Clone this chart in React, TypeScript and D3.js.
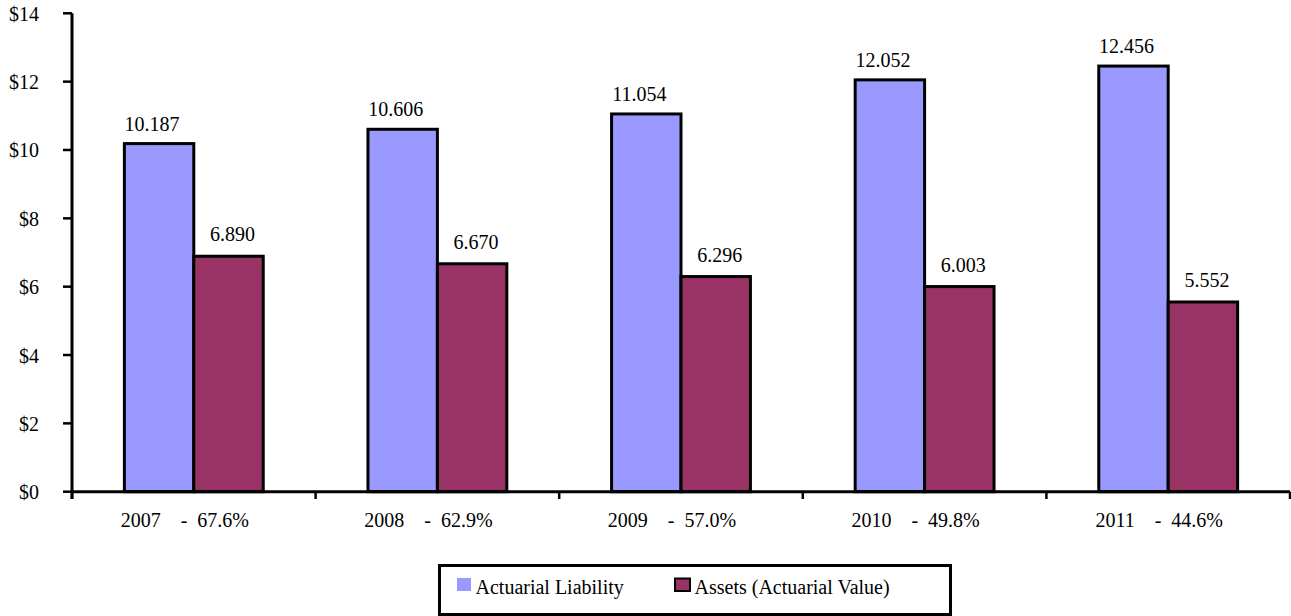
import React from "react";
import * as d3 from "d3";

// Funded status by year: liability vs. assets (billions)
const years = ["2007", "2008", "2009", "2010", "2011"];
const fundedRatios = ["67.6%", "62.9%", "57.0%", "49.8%", "44.6%"];
const liability = [10.187, 10.606, 11.054, 12.052, 12.456];
const assets = [6.89, 6.67, 6.296, 6.003, 5.552];
const seriesNames = ["Actuarial Liability", "Assets (Actuarial Value)"];
const yTicks = [0, 2, 4, 6, 8, 10, 12, 14];

const W = 1291;
const H = 616;
const FONT = "'Liberation Serif', 'Times New Roman', serif";
const COLORS = ["#9999FF", "#993366"];

export default function App() {
  const x0 = 72;
  const x1 = 1290;
  const yTop = 13.3;
  const yBottom = 491.7;

  const x = d3.scaleBand<string>().domain(years).range([x0, x1]).paddingInner(0.43).paddingOuter(0.215);
  const xSeries = d3.scaleBand<string>().domain(seriesNames).range([0, x.bandwidth()]);
  const y = d3.scaleLinear().domain([0, 14]).range([yBottom, yTop]);
  const step = x.step();
  const boundaries = d3.range(years.length + 1).map((i) => x0 + i * step);

  const series = [liability, assets];
  const labelDx = [-7, 4];
  const labelDy = [-13, -15];

  return (
    <svg
      width={W}
      height={H}
      style={{ position: "absolute", left: 0, top: 0, background: "#fff" }}
      fontFamily={FONT}
    >
      {/* bars */}
      {years.map((yr, i) =>
        series.map((vals, s) => {
          const bx = (x(yr) as number) + (xSeries(seriesNames[s]) as number);
          const bw = xSeries.bandwidth();
          const top = y(vals[i]);
          return (
            <g key={`${yr}-${s}`}>
              <rect
                x={bx}
                y={top}
                width={bw}
                height={y(0) - top}
                fill={COLORS[s]}
                stroke="#000"
                strokeWidth={3}
              />
              <text
                x={bx + bw / 2 + labelDx[s]}
                y={top + labelDy[s]}
                textAnchor="middle"
                fontSize={20}
                fill="#000"
              >
                {vals[i].toFixed(3)}
              </text>
            </g>
          );
        })
      )}

      {/* y axis */}
      <line x1={x0} x2={x0} y1={yTop} y2={499} stroke="#000" strokeWidth={3} />
      {yTicks.map((t) => (
        <g key={t}>
          <line x1={63} x2={x0} y1={y(t)} y2={y(t)} stroke="#000" strokeWidth={2.5} />
          <text x={39} y={y(t) + 7.5} textAnchor="end" fontSize={20} fill="#000">
            {`$${t}`}
          </text>
        </g>
      ))}

      {/* x axis */}
      <line x1={x0} x2={x1} y1={y(0)} y2={y(0)} stroke="#000" strokeWidth={3} />
      {boundaries.map((bx, i) => (
        <line key={i} x1={bx} x2={bx} y1={y(0)} y2={499} stroke="#000" strokeWidth={2.5} />
      ))}
      {years.map((yr, i) => (
        <text
          key={yr}
          x={(x(yr) as number) + x.bandwidth() / 2 - 9}
          y={526.7}
          textAnchor="middle"
          fontSize={20}
          fill="#000"
          style={{ whiteSpace: "pre" }}
        >
          {`${yr}    -  ${fundedRatios[i]}`}
        </text>
      ))}

      {/* legend */}
      <rect x={439.5} y={565.5} width={511} height={49} fill="#fff" stroke="#000" strokeWidth={3} />
      <rect x={457} y={578} width={14} height={13} fill={COLORS[0]} />
      <text x={475.5} y={594} fontSize={20} fill="#000">
        {seriesNames[0]}
      </text>
      <rect x={675} y={578.5} width={15} height={12.5} fill={COLORS[1]} stroke="#000" strokeWidth={2} />
      <text x={694.5} y={594} fontSize={20} fill="#000">
        {seriesNames[1]}
      </text>
    </svg>
  );
}
